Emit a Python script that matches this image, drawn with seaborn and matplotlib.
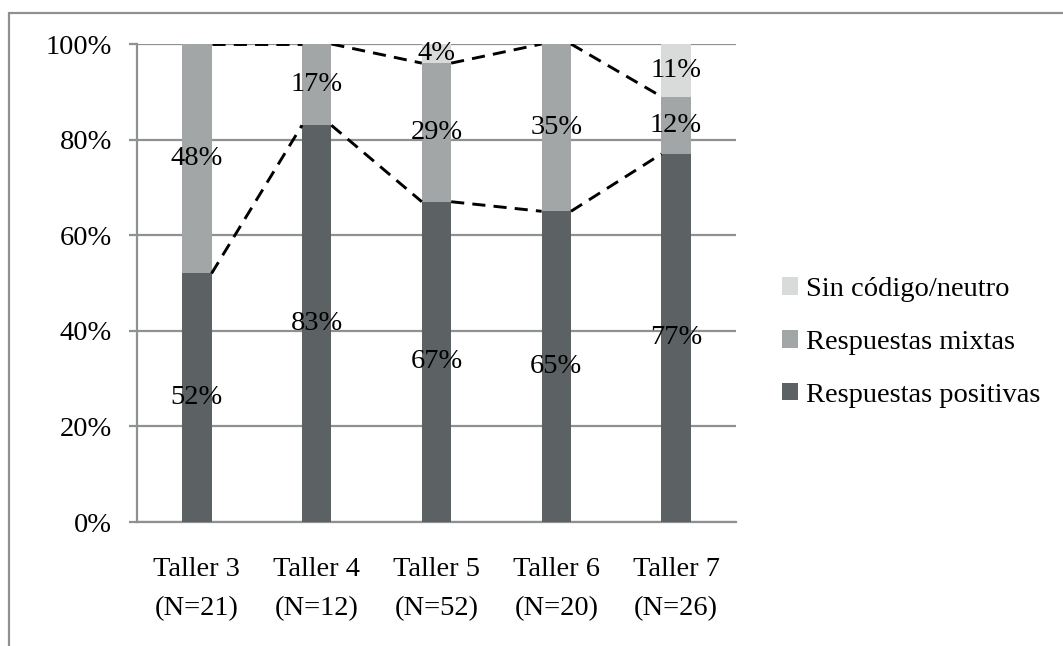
import matplotlib
matplotlib.use("Agg")
import matplotlib.pyplot as plt
from matplotlib.lines import Line2D
import numpy as np
import pandas as pd
import seaborn as sns

# ---- data ----
categories = ["Taller 3\n(N=21)", "Taller 4\n(N=12)", "Taller 5\n(N=52)", "Taller 6\n(N=20)", "Taller 7\n(N=26)"]
positivas = [52, 83, 67, 65, 77]
mixtas = [48, 17, 29, 35, 12]
neutro = [0, 0, 4, 0, 11]
series_names = ["Respuestas positivas", "Respuestas mixtas", "Sin código/neutro"]
y_ticks = [0, 20, 40, 60, 80, 100]

sns.set_theme(style="white")
plt.rcParams["font.family"] = ["Liberation Serif", "DejaVu Serif"]

col_pos = "#5c6163"
col_mix = "#a3a6a6"
col_neu = "#d9dbdb"
grid_col = "#8e9191"
FS = 20.5

fig = plt.figure(figsize=(10.63, 6.46), dpi=100)
ax = fig.add_axes([137/1063, 1-522/646, (736-137)/1063, (522-44)/646])

pos = np.array(positivas, float)
mix = np.array(mixtas, float)
neu = np.array(neutro, float)
cum1 = pos
cum2 = pos + mix
cum3 = pos + mix + neu

df = pd.DataFrame({"cat": categories, "pos": cum1, "mix": cum2, "neu": cum3})
W = 0.245
sns.barplot(data=df, x="cat", y="neu", color=col_neu, width=W, ax=ax, label=series_names[2], saturation=1, linewidth=0, zorder=3)
sns.barplot(data=df, x="cat", y="mix", color=col_mix, width=W, ax=ax, label=series_names[1], saturation=1, linewidth=0, zorder=3)
sns.barplot(data=df, x="cat", y="pos", color=col_pos, width=W, ax=ax, label=series_names[0], saturation=1, linewidth=0, zorder=3)

# series lines
xs = np.arange(len(categories))
for cum in (cum1, cum2):
    for i in range(len(categories) - 1):
        ax.plot([xs[i] + W/2, xs[i+1] - W/2], [cum[i], cum[i+1]], color="black",
                lw=2.1, linestyle=(0, (4.5, 2.8)), zorder=4, solid_capstyle="butt")

# data labels
for i in range(len(categories)):
    segs = [(0, pos[i]), (cum1[i], mix[i]), (cum2[i], neu[i])]
    for base, v in segs:
        if v > 0:
            ax.text(xs[i], base + v/2, f"{int(v)}%", ha="center", va="center",
                    fontsize=FS, color="black", zorder=5)

ax.set_ylim(0, 100)
ax.set_xlim(-0.5, len(categories) - 0.5)
ax.set_yticks(y_ticks)
ax.set_yticklabels([f"{t}%" for t in y_ticks], fontsize=FS)
ax.set_xticks(xs)
ax.set_xticklabels(categories, fontsize=FS, linespacing=1.75)
ax.set_xlabel("")
ax.set_ylabel("")
ax.yaxis.grid(True, color=grid_col, lw=1.6, zorder=0)
ax.xaxis.grid(False)
ax.set_axisbelow(True)
for s in ["top", "right"]:
    ax.spines[s].set_visible(False)
for s in ["left", "bottom"]:
    ax.spines[s].set_color(grid_col)
    ax.spines[s].set_linewidth(1.6)
ax.tick_params(axis="y", direction="out", length=6, width=1.6, color=grid_col, pad=12, left=True)
ax.tick_params(axis="x", length=0, pad=25)
for lab in ax.get_yticklabels() + ax.get_xticklabels():
    lab.set_color("black")

# legend
h, l = ax.get_legend_handles_labels()
if ax.get_legend() is not None:
    ax.get_legend().remove()
order = [l.index(n) for n in [series_names[2], series_names[1], series_names[0]]]
leg = fig.legend([h[k] for k in order], [l[k] for k in order],
                 loc="center left", bbox_to_anchor=(782/1063, 1-342.5/646),
                 frameon=False, fontsize=FS, handlelength=0.55, handleheight=0.55,
                 handletextpad=0.3, labelspacing=0.98, borderpad=0, borderaxespad=0)
for t in leg.get_texts():
    t.set_color("black")

# figure border (top and left)
fig.add_artist(Line2D([9/1063, 1.0], [1-13/646, 1-13/646], transform=fig.transFigure, color=grid_col, lw=1.6))
fig.add_artist(Line2D([9/1063, 9/1063], [0.0, 1-13/646], transform=fig.transFigure, color=grid_col, lw=1.6))

fig.savefig("out.png", dpi=100)
